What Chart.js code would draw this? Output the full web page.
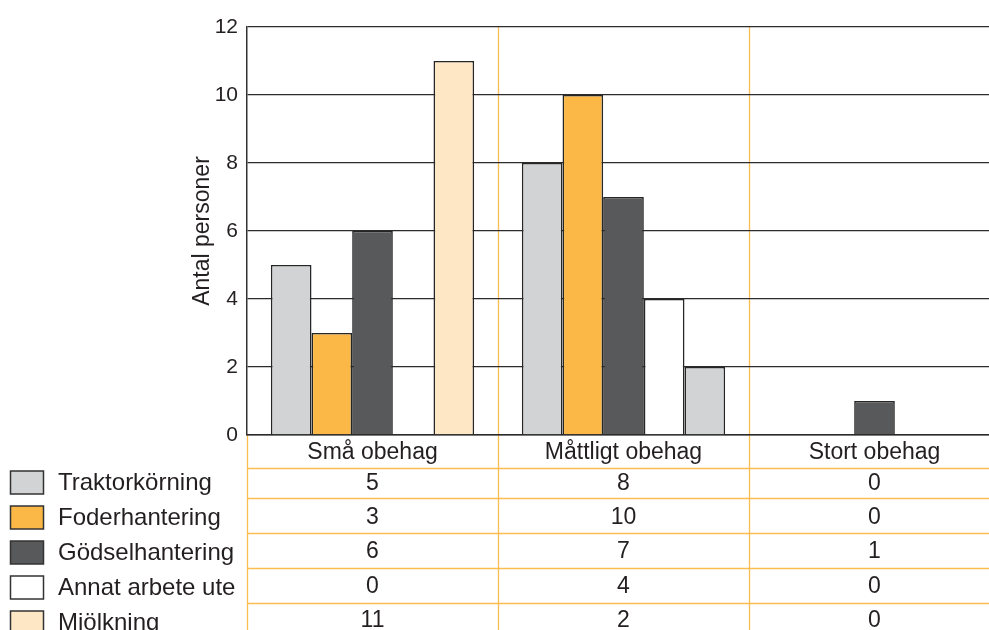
<!DOCTYPE html>
<html>
<head>
<meta charset="utf-8">
<script src="https://cdn.jsdelivr.net/npm/chart.js@4"></script>
<style>
  html, body { margin: 0; padding: 0; overflow: hidden; background: #fff; }
  #wrap { position: relative; width: 1000px; height: 630px; }
</style>
</head>
<body>
<div id="wrap"><canvas id="obehagChart"></canvas></div>
<script>
// categories and series
const categories = ['Små obehag', 'Måttligt obehag', 'Stort obehag'];
const seriesNames = ['Traktorkörning', 'Foderhantering', 'Gödselhantering', 'Annat arbete ute', 'Mjölkning'];
const traktor = [5, 8, 0];
const foder = [3, 10, 0];
const godsel = [6, 7, 1];
const annat = [0, 4, 0];
const mjolk = [11, 2, 0];
const yTicks = [0, 2, 4, 6, 8, 10, 12];

const seriesValues = [traktor, foder, godsel, annat, mjolk];
const fills = ['#d1d3d4', '#fbb846', '#58595b', '#ffffff', '#fee7c4'];
// in the original the Mjölkning bar of "Måttligt obehag" is grey
const mjolkFills = ['#fee7c4', '#d1d3d4', '#fee7c4'];
const orange = '#fbbd52';
const ink = '#231f20';
const font = "'Liberation Sans', Arial, sans-serif";

const tablePlugin = {
    id: 'tablePlugin',
    beforeDraw(chart) {
        const {ctx, chartArea, scales} = chart;
        const x = scales.x;
        const n = categories.length;
        const step = (x.right - x.left) / n;
        const h = chart.height;
        ctx.save();
        ctx.strokeStyle = orange;
        ctx.lineWidth = 1.3;
        // vertical orange separators
        for (let i = 0; i <= n; i++) {
            const px = Math.round(x.left + i * step) + 0.5;
            ctx.beginPath();
            ctx.moveTo(px, i === 0 ? chartArea.bottom : chartArea.top);
            ctx.lineTo(px, h);
            ctx.stroke();
        }
        // horizontal table lines
        const rowLines = [chartArea.bottom + 33];
        for (let k = 0; k < seriesNames.length - 1; k++) rowLines.push(chartArea.bottom + 63 + k * 35);
        rowLines.forEach(y => {
            ctx.beginPath();
            ctx.moveTo(x.left, Math.round(y) + 0.5);
            ctx.lineTo(chart.width, Math.round(y) + 0.5);
            ctx.stroke();
        });
        ctx.restore();
    },
    afterDraw(chart) {
        const {ctx, chartArea, scales} = chart;
        const x = scales.x;
        ctx.save();
        // table values
        ctx.fillStyle = ink;
        ctx.font = '23px ' + font;
        ctx.textAlign = 'center';
        ctx.textBaseline = 'middle';
        seriesValues.forEach((vals, r) => {
            const y = chartArea.bottom + 48.5 + r * 34.3;
            vals.forEach((v, i) => ctx.fillText(String(v), x.getPixelForValue(i), y));
        });
        // legend on the left
        ctx.font = '24px ' + font;
        ctx.textAlign = 'left';
        seriesNames.forEach((name, r) => {
            const top = chartArea.bottom + 36 + r * 35;
            ctx.fillStyle = fills[r];
            ctx.fillRect(10.5, top, 33, 23);
            ctx.strokeStyle = '#333333';
            ctx.lineWidth = 1.5;
            ctx.strokeRect(10.5, top, 33, 23);
            ctx.fillStyle = ink;
            ctx.fillText(name, 58, top + 12);
        });
        ctx.restore();
    }
};

const ctx = document.getElementById('obehagChart').getContext('2d');
const obehagChart = new Chart(ctx, {
    type: 'bar',
    data: {
        labels: categories,
        datasets: seriesNames.map((name, i) => ({
            label: name,
            data: seriesValues[i],
            backgroundColor: i === 4 ? mjolkFills : fills[i],
            borderColor: '#262626',
            borderWidth: 1.6,
            categoryPercentage: 0.81,
            barPercentage: 1.0
        }))
    },
    options: {
        responsive: true,
        maintainAspectRatio: false,
        animation: false,
        layout: { padding: { left: 191, top: 27, right: 0, bottom: 0 } },
        plugins: {
            legend: { display: false },
            tooltip: { enabled: false }
        },
        scales: {
            x: {
                afterFit: s => { s.height = 195; },
                grid: { display: false, drawTicks: false },
                border: { color: '#2b2b2b', width: 1.4 },
                ticks: { color: ink, padding: 4, font: { family: font, size: 23 } }
            },
            y: {
                min: 0,
                max: 12,
                afterFit: s => { s.width = 56; },
                afterBuildTicks: s => { s.ticks = yTicks.map(v => ({ value: v })); },
                grid: { color: '#2b2b2b', lineWidth: 1.3, drawTicks: false },
                border: { color: '#333333', width: 1.5 },
                ticks: { color: ink, padding: 9, font: { family: font, size: 21 } },
                title: {
                    display: true,
                    text: 'Antal personer',
                    color: ink,
                    padding: { top: 0, bottom: 0 },
                    font: { family: font, size: 23, lineHeight: 1 }
                }
            }
        }
    },
    plugins: [tablePlugin]
});
</script>
</body>
</html>
